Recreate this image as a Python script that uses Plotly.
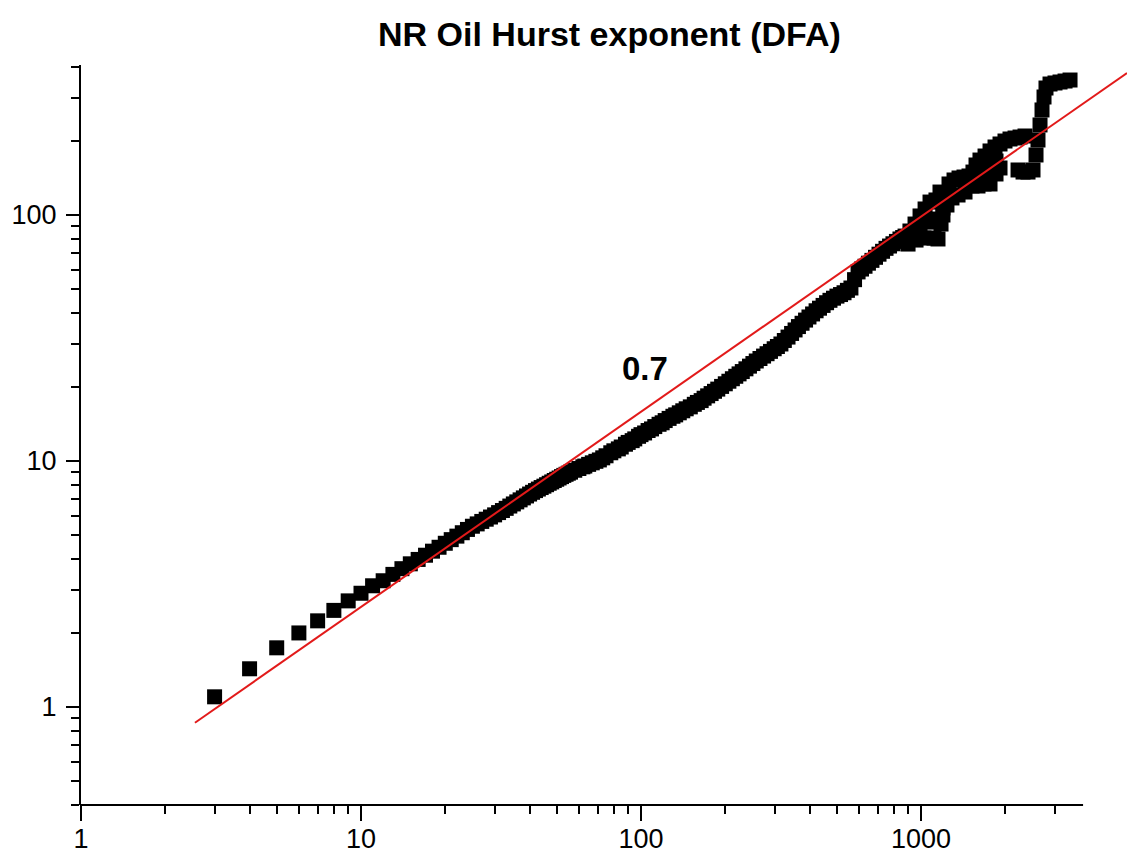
import plotly.graph_objects as go

title_text = "NR Oil Hurst exponent (DFA)"
slope_label = "0.7"

# window size n and DFA fluctuation F(n)
n_small = [3, 4, 5, 6, 7, 8, 9, 10, 11, 12, 13]
F_small = [1.10, 1.43, 1.74, 2.00, 2.24, 2.47, 2.70, 2.90, 3.11, 3.26, 3.46]

n_mid = [14, 15, 16, 17, 18, 19, 20, 21, 22, 23, 24, 25, 26, 27, 28, 29, 30, 31, 32,
         33, 34, 35, 36, 37, 38, 39, 40, 41, 42, 43, 44, 45, 46, 47, 48, 49, 50, 51,
         52, 53, 54, 55, 56, 58, 60, 62, 63, 65, 67, 69, 71, 73, 75, 78, 80, 83, 85,
         88, 90, 93, 95, 98, 100, 103, 106, 109, 112, 116, 119, 122, 126, 130, 133,
         137, 141, 145, 150, 155, 159, 164, 168, 173, 178, 183, 188, 194, 200, 206,
         212, 218, 224, 230, 237, 244, 251, 258, 266, 274, 282, 290, 299, 307, 316,
         325, 335, 345, 355, 365, 376, 387, 398, 410, 422, 434, 447, 460, 473, 487,
         501, 516, 531, 546, 562, 579, 596, 613, 631, 649, 668, 688, 708, 729, 750,
         772, 794, 817, 841, 860]
F_mid = [3.65, 3.82, 3.98, 4.14, 4.30, 4.46, 4.63, 4.79, 4.95, 5.11, 5.27, 5.43, 5.55,
         5.68, 5.80, 5.92, 6.04, 6.17, 6.29, 6.42, 6.56, 6.69, 6.82, 6.95, 7.08, 7.21,
         7.34, 7.46, 7.58, 7.69, 7.80, 7.90, 8.01, 8.12, 8.22, 8.33, 8.43, 8.53, 8.64,
         8.74, 8.83, 8.92, 9.01, 9.17, 9.32, 9.47, 9.54, 9.69, 9.83, 9.97, 10.1, 10.3,
         10.5, 10.8, 11.0, 11.2, 11.4, 11.7, 11.9, 12.1, 12.3, 12.6, 12.8, 13.0, 13.3,
         13.5, 13.8, 14.1, 14.3, 14.6, 14.9, 15.2, 15.4, 15.7, 16.0, 16.3, 16.6, 17.0,
         17.3, 17.6, 18.0, 18.4, 18.8, 19.2, 19.6, 20.1, 20.6, 21.1, 21.6, 22.1, 22.6,
         23.1, 23.7, 24.3, 24.9, 25.5, 26.1, 26.7, 27.3, 27.9, 28.6, 29.2, 29.9, 30.9,
         31.9, 33.0, 34.1, 35.2, 36.3, 37.4, 38.5, 39.6, 40.8, 41.8, 42.9, 44.0, 45.0,
         45.9, 46.8, 47.5, 48.3, 49.4, 50.5, 54.6, 58.7, 60.3, 61.9, 63.7, 65.4, 67.3,
         69.3, 71.2, 73.2, 74.8, 76.4, 78.1, 79.9, 81.0]

n_high = [877, 899, 913, 952, 960, 992, 992, 1025, 1034, 1059, 1077, 1113, 1131, 1131,
          1150, 1169, 1179, 1198, 1198, 1218, 1238, 1259, 1290, 1312, 1356, 1367, 1424,
          1436, 1484, 1521, 1533, 1572, 1598, 1598, 1624, 1679, 1679, 1693, 1764, 1764,
          1764, 1838, 1853, 1853, 1915, 1915, 1995, 2079, 2167, 2221, 2258, 2314, 2352,
          2411, 2512, 2575, 2617, 2661, 2705, 2750, 2795, 2889, 3010, 3137, 3269, 3406]
F_high = [82.1, 76.2, 86.1, 91.9, 79.1, 99.1, 88.5, 80.6, 105.8, 93.6, 112.9, 80.6,
          115.1, 96.3, 79.9, 124.0, 91.9, 106.8, 100.0, 121.7, 109.8, 133.7, 117.3,
          138.8, 120.6, 141.4, 142.7, 124.0, 144.1, 131.2, 149.5, 159.7, 131.2, 148.2,
          167.3, 133.7, 152.4, 173.7, 182.1, 133.7, 155.3, 189.0, 146.8, 165.8, 194.4,
          155.3, 199.9, 203.7, 205.6, 152.4, 207.5, 149.5, 209.5, 149.5, 152.4, 175.4,
          201.8, 232.3, 267.3, 301.8, 328.3, 340.8, 344.1, 347.3, 350.5, 353.8]

# fitted power-law line end points
fit_x = [2.553, 5441]
fit_y = [0.863, 377.7]

x_major = [1, 10, 100, 1000]
x_major_text = ["1", "10", "100", "1000"]
x_minor = [2, 3, 4, 5, 6, 7, 8, 9, 20, 30, 40, 50, 60, 70, 80, 90,
           200, 300, 400, 500, 600, 700, 800, 900, 2000, 3000]
y_major = [1, 10, 100]
y_major_text = ["1", "10", "100"]
y_minor = [0.4, 0.5, 0.6, 0.7, 0.8, 0.9, 2, 3, 4, 5, 6, 7, 8, 9,
           20, 30, 40, 50, 60, 70, 80, 90, 200, 300, 400]

FONT = "Liberation Sans, Arial, sans-serif"

fig = go.Figure()
fig.add_trace(go.Scatter(
    x=n_small + n_mid + n_high, y=F_small + F_mid + F_high,
    mode="markers",
    marker=dict(symbol="square", size=15, color="black", line=dict(width=0)),
    showlegend=False,
))
fig.add_trace(go.Scatter(
    x=fit_x, y=fit_y, mode="lines",
    line=dict(color="rgb(226,26,26)", width=2),
    showlegend=False,
))

fig.update_layout(
    width=1127, height=854,
    margin=dict(l=81, r=0, t=65, b=49, pad=0),
    paper_bgcolor="white", plot_bgcolor="white",
    showlegend=False,
    xaxis=dict(
        type="log", range=[0, 3.7357], automargin=False,
        tickmode="array", tickvals=x_major, ticktext=x_major_text,
        ticks="outside", ticklen=15, tickwidth=2, tickcolor="black",
        showline=False, showgrid=False, zeroline=False,
        tickfont=dict(family=FONT, size=27, color="black"),
        ticklabelstandoff=-5,
        minor=dict(tickmode="array", tickvals=x_minor, ticks="outside",
                   ticklen=8, tickwidth=2, tickcolor="black", showgrid=False),
    ),
    yaxis=dict(
        type="log", range=[-0.3984, 2.6098], automargin=False,
        tickmode="array", tickvals=y_major, ticktext=y_major_text,
        ticks="outside", ticklen=13, tickwidth=2, tickcolor="black",
        showline=True, linewidth=2, linecolor="black",
        showgrid=False, zeroline=False,
        tickfont=dict(family=FONT, size=27, color="black"),
        ticklabelstandoff=4,
        minor=dict(tickmode="array", tickvals=y_minor, ticks="outside",
                   ticklen=8, tickwidth=2, tickcolor="black", showgrid=False),
    ),
    shapes=[dict(type="line", xref="paper", yref="paper",
                 x0=-0.001, x1=0.958, y0=0, y1=0,
                 line=dict(color="black", width=2))],
    annotations=[
        dict(text="<b>" + title_text + "</b>", xref="paper", yref="paper",
             x=0.5048, y=1.0419, xanchor="center", yanchor="middle",
             showarrow=False, font=dict(family=FONT, size=34, color="black")),
        dict(text="<b>" + slope_label + "</b>", xref="paper", yref="paper",
             x=0.5392, y=0.5905, xanchor="center", yanchor="middle",
             showarrow=False, font=dict(family=FONT, size=33, color="black")),
    ],
)

fig.write_html("out.html")
